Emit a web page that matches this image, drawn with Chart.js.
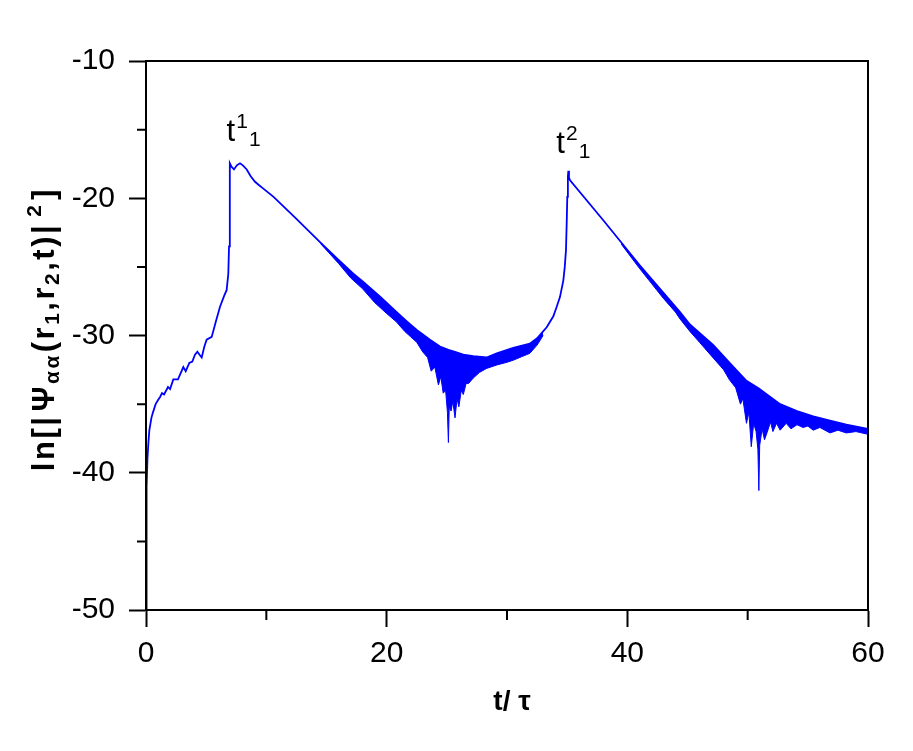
<!DOCTYPE html>
<html>
<head>
<meta charset="utf-8">
<script src="https://cdn.jsdelivr.net/npm/chart.js@4.4.0/dist/chart.umd.min.js"></script>
<style>
  html, body { margin: 0; padding: 0; background: #fff; }
</style>
</head>
<body>
<canvas id="chartPsi" width="913" height="751"></canvas>
<script>
// main trace (upper edge of the signal), t/tau vs ln|psi|^2
const mainT = [0, 0.03, 0.07, 0.12, 0.2, 0.28, 0.45, 0.58, 0.8, 1.0, 1.16, 1.33, 1.5, 1.83, 2.0,
  2.27, 2.66, 2.8, 3.1, 3.3, 3.6, 3.85, 4.07, 4.27, 4.45, 4.63, 4.85, 5.04, 5.46, 5.8,
  6.15, 6.5, 6.7, 6.84, 6.9, 6.95, 6.98, 7.1, 7.31, 7.55, 7.81, 8.05, 8.37, 8.7, 9.06,
  9.4, 9.75, 10.6, 12.5, 14.46, 16.0, 17.23, 18.06, 19.5, 20.83, 21.7, 22.5, 23.6, 24.43, 25.13,
  25.68, 26.37, 27.2, 28.3, 29.15, 30.52, 31.9, 32.5, 33.0, 33.3, 33.85, 34.13, 34.4, 34.68, 34.8,
  34.9, 34.97, 35.01, 35.06, 35.1, 35.15, 35.24, 38.0, 41.05, 44.38, 45.2, 47.15, 48.5, 49.9, 50.9,
  51.6, 52.7, 54.1, 55.45, 56.84, 58.2, 60];
const mainV = [-50, -45, -41, -39, -37.8, -36.9, -36.0, -35.6, -35.0, -34.7, -34.5, -34.2, -34.3, -33.75, -33.9,
  -33.2, -33.2, -32.9, -32.3, -32.6, -32.0, -31.9, -31.4, -31.18, -31.4, -31.6, -30.8, -30.3, -30.1, -29.0,
  -27.9, -27.1, -26.7, -25.5, -23.5, -20.0, -17.45, -17.7, -17.9, -17.6, -17.45, -17.6, -17.9, -18.4, -18.8,
  -19.05, -19.3, -19.9, -21.5, -23.2, -24.5, -25.5, -26.1, -27.2, -28.3, -29.0, -29.6, -30.3, -30.8, -31.05,
  -31.2, -31.4, -31.5, -31.6, -31.3, -30.9, -30.6, -30.2, -29.7, -29.4, -28.6, -27.9, -27.2, -26.0, -25.0,
  -23.8, -21.5, -19.9, -18.4, -18.0, -18.5, -18.7, -21.6, -24.9, -28.3, -29.2, -30.7, -32.0, -33.3, -33.85,
  -34.3, -35.0, -35.5, -35.9, -36.2, -36.5, -36.8];

// lower edge of the fast oscillations (first decay)
const band1T = [14.5, 16.0, 17.0, 18.0, 19.0, 20.0, 20.8, 21.5, 22.0, 22.5, 23.0, 23.4, 23.7, 24.0, 24.3, 24.5, 24.7,
  24.9, 25.05, 25.13, 25.2, 25.35, 25.5, 25.68, 25.85, 26.0, 26.2, 26.37, 26.6, 26.8, 27.2, 27.7,
  28.3, 29.15, 30.0, 30.52, 31.2, 31.9, 32.5, 33.0];
const band1Lo = [-23.3, -24.75, -25.8, -26.6, -27.6, -28.4, -29.0, -29.7, -30.1, -30.5, -31.2, -31.6, -32.6, -32.3, -33.6, -33.0, -34.2,
  -34.0, -35.6, -37.8, -35.2, -35.5, -34.8, -36.0, -34.6, -35.2, -34.0, -34.3, -33.5, -33.5, -33.1, -32.7,
  -32.4, -32.15, -31.95, -31.8, -31.55, -31.3, -30.7, -30.0];

// lower edge of the fast oscillations (second decay)
const band2T = [39.5, 41.0, 42.0, 43.0, 44.0, 44.38, 45.2, 46.0, 47.15, 48.0, 48.5, 49.0, 49.4, 49.6, 49.9, 50.1,
  50.3, 50.5, 50.7, 50.85, 50.93, 51.0, 51.2, 51.4, 51.6, 51.9, 52.1, 52.4, 52.7, 53.2, 53.6,
  54.1, 54.6, 55.0, 55.45, 56.0, 56.84, 57.5, 58.2, 59.0, 60.0];
const band2Lo = [-23.35, -25.1, -26.2, -27.3, -28.3, -28.8, -29.7, -30.5, -31.65, -32.5, -33.25, -33.8, -35.0, -34.6, -36.4, -35.6,
  -38.1, -36.4, -37.0, -38.3, -41.3, -38.0, -36.8, -37.6, -37.1, -36.3, -37.0, -36.4, -36.9, -36.4, -36.8,
  -36.5, -36.7, -36.6, -36.9, -36.7, -37.1, -36.9, -37.1, -37.0, -37.2];

const xMinor = [10, 30, 50];
const yMinor = [-15, -25, -35, -45];

const FONT = '"Liberation Sans", Arial, Helvetica, sans-serif';
const BLUE = '#0000ff';

const toXY = (ts, vs) => ts.map((t, i) => ({ x: t, y: vs[i] }));

// peak labels t^n_1 (left edge / baseline in data units)
const peakLabels = [
  { x: 6.7, y: -15.8, sup: '1', sub: '1' },
  { x: 34.1, y: -16.7, sup: '2', sub: '1' }
];

function drawRich(ctx, parts, x, y, size, align, spacing) {
  const small = Math.round(size * 0.68);
  const fontOf = p => (p.bold ? 'bold ' : '') + (p.sub || p.sup ? small : size) + 'px ' + FONT;
  ctx.letterSpacing = (spacing || 0) + 'px';
  let w = 0;
  parts.forEach(p => { ctx.font = fontOf(p); w += ctx.measureText(p.text).width + (p.gap || 0); });
  let cx = align === 'center' ? x - w / 2 : x;
  ctx.textBaseline = 'alphabetic';
  ctx.textAlign = 'left';
  parts.forEach(p => {
    ctx.font = fontOf(p);
    cx += p.gap || 0;
    const dy = p.sub ? size * 0.17 : (p.sup ? -size * 0.42 : 0);
    ctx.fillText(p.text, cx, y + dy);
    cx += ctx.measureText(p.text).width;
  });
  ctx.letterSpacing = '0px';
}

const decor = {
  id: 'decor',
  afterDraw(chart) {
    const { ctx, chartArea: a } = chart;
    const x = chart.scales.x, y = chart.scales.y;
    ctx.save();
    ctx.strokeStyle = '#000';
    ctx.lineWidth = 2;
    ctx.strokeRect(a.left, a.top, a.right - a.left, a.bottom - a.top);

    // minor ticks
    ctx.beginPath();
    xMinor.forEach(v => {
      const px = x.getPixelForValue(v);
      ctx.moveTo(px, a.bottom); ctx.lineTo(px, a.bottom + 10);
    });
    yMinor.forEach(v => {
      const py = y.getPixelForValue(v);
      ctx.moveTo(a.left, py); ctx.lineTo(a.left - 9, py);
    });
    ctx.stroke();

    ctx.fillStyle = '#000';
    // peak labels
    peakLabels.forEach(l => {
      drawRich(ctx, [
        { text: 't' },
        { text: l.sup, sup: true, gap: 1 },
        { text: l.sub, sub: true, gap: 1 }
      ], x.getPixelForValue(l.x), y.getPixelForValue(l.y), 31, 'left');
    });

    // x title
    drawRich(ctx, [{ text: 't/ τ', bold: true }], 512, 710, 28, 'center');

    // y title
    ctx.save();
    ctx.translate(54, 329);
    ctx.rotate(-Math.PI / 2);
    drawRich(ctx, [
      { text: 'ln[|', bold: true },
      { text: 'Ψ', bold: true, gap: 3 },
      { text: 'αα', bold: true, sub: true },
      { text: '(r', bold: true, gap: 1 },
      { text: '1', bold: true, sub: true },
      { text: ',r', bold: true },
      { text: '2', bold: true, sub: true },
      { text: ',t)|', bold: true },
      { text: '2', bold: true, sup: true, gap: 6 },
      { text: ']', bold: true, gap: 3 }
    ], 0, 0, 31, 'center', 2.5);
    ctx.restore();
    ctx.restore();
  }
};

const ctxPsi = document.getElementById('chartPsi').getContext('2d');
new Chart(ctxPsi, {
  type: 'line',
  data: {
    datasets: [{
      label: 'main',
      data: toXY(mainT, mainV),
      borderColor: BLUE,
      borderWidth: 1.8,
      pointRadius: 0,
      tension: 0,
      fill: false
    }, {
      label: 'osc1',
      data: toXY(band1T, band1Lo),
      borderColor: BLUE,
      backgroundColor: BLUE,
      borderWidth: 1,
      pointRadius: 0,
      tension: 0,
      fill: '-1'
    }, {
      label: 'osc2',
      data: toXY(band2T, band2Lo),
      borderColor: BLUE,
      backgroundColor: BLUE,
      borderWidth: 1,
      pointRadius: 0,
      tension: 0,
      fill: '-2'
    }]
  },
  options: {
    responsive: false,
    animation: false,
    devicePixelRatio: 1,
    layout: { padding: { top: 61, right: 45, left: 0, bottom: 0 } },
    plugins: {
      legend: { display: false },
      tooltip: { enabled: false }
    },
    scales: {
      x: {
        type: 'linear',
        min: 0, max: 60,
        ticks: { stepSize: 20, color: '#000', padding: 9, maxRotation: 0, font: { family: FONT, size: 30 } },
        grid: { drawOnChartArea: false, tickLength: 17, tickWidth: 2, tickColor: '#000' },
        border: { color: '#000', width: 2 },
        afterFit(s) { s.height = 141; }
      },
      y: {
        min: -50, max: -10,
        ticks: { stepSize: 10, color: '#000', padding: 14, font: { family: FONT, size: 30 } },
        grid: { drawOnChartArea: false, tickLength: 17, tickWidth: 2, tickColor: '#000' },
        border: { color: '#000', width: 2 },
        afterFit(s) { s.width = 146; }
      }
    }
  },
  plugins: [decor]
});
</script>
</body>
</html>
